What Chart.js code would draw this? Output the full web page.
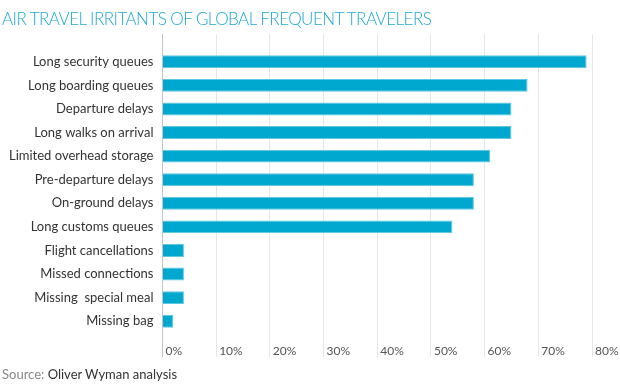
<!DOCTYPE html>
<html>
<head>
<meta charset="utf-8">
<script src="https://cdn.jsdelivr.net/npm/chart.js@4/dist/chart.umd.min.js"></script>
<style>
  html, body { margin: 0; padding: 0; background: #fff; }
  #wrap { position: relative; width: 620px; height: 387px; }
  #title { position: absolute; left: 2px; top: 8px; font: 300 17px Lato, sans-serif; letter-spacing: -0.55px; color: #1ea9d2; white-space: nowrap; }
  #source { position: absolute; left: 2px; top: 366px; font: 13px Lato, sans-serif; color: #333; white-space: nowrap; }
  #source span { color: #888; }
  canvas { position: absolute; left: 0; top: 0; }
</style>
</head>
<body>
<div id="wrap">
  <canvas id="chart" width="620" height="387"></canvas>
  <div id="title">AIR TRAVEL IRRITANTS OF GLOBAL FREQUENT TRAVELERS</div>
  <div id="source"><span>Source:</span> Oliver Wyman analysis</div>
</div>
<script>
// ข้อมูลกราฟ
const categories = [
    'Long security queues', 'Long boarding queues', 'Departure delays',
    'Long walks on arrival', 'Limited overhead storage', 'Pre-departure delays',
    'On-ground delays', 'Long customs queues', 'Flight cancellations',
    'Missed connections', 'Missing  special meal', 'Missing bag'
];
const shares = [79, 68, 65, 65, 61, 58, 58, 54, 4, 4, 4, 2];
const tickLabels = ['0%', '10%', '20%', '30%', '40%', '50%', '60%', '70%', '80%'];

document.addEventListener("DOMContentLoaded", function () {
    const gridColor = c => (c.tick && c.tick.value === 0) ? '#c4c4c4' : '#e6e6e6';

    const ctx = document.getElementById('chart').getContext('2d');
    new Chart(ctx, {
        type: 'bar',
        data: {
            labels: categories,
            datasets: [{
                data: shares,
                backgroundColor: '#00a7cf',
                borderColor: '#5ec7e2',
                borderWidth: 1,
                borderSkipped: 'left',
                barPercentage: 0.55,
                categoryPercentage: 1
            }]
        },
        options: {
            indexAxis: 'y',
            responsive: false,
            animation: false,
            layout: { padding: { left: 0, right: 28, top: 34, bottom: 24 } },
            plugins: { legend: { display: false }, tooltip: { enabled: false } },
            scales: {
                x: {
                    min: 0, max: 80,
                    border: { display: false },
                    grid: { color: gridColor, tickLength: 24, lineWidth: 1 },
                    ticks: {
                        stepSize: 10,
                        align: 'start', labelOffset: 3, padding: -13,
                        color: '#555', font: { family: 'Lato', size: 12 },
                        callback: (v, i) => tickLabels[i]
                    },
                    // ป้ายอยู่ข้างเส้นกริด ต้องขยายความสูงแกนเอง
                    afterFit: s => { s.height = 30; }
                },
                x2: {
                    position: 'top',
                    min: 0, max: 80,
                    border: { display: false },
                    grid: { color: gridColor, tickLength: 16, drawOnChartArea: false },
                    ticks: { display: false, stepSize: 10 }
                },
                y: {
                    border: { display: false },
                    grid: { display: false, drawTicks: false },
                    ticks: { color: '#333', padding: 9, font: { family: 'Lato', size: 13 } }
                }
            }
        }
    });
});
</script>
</body>
</html>
